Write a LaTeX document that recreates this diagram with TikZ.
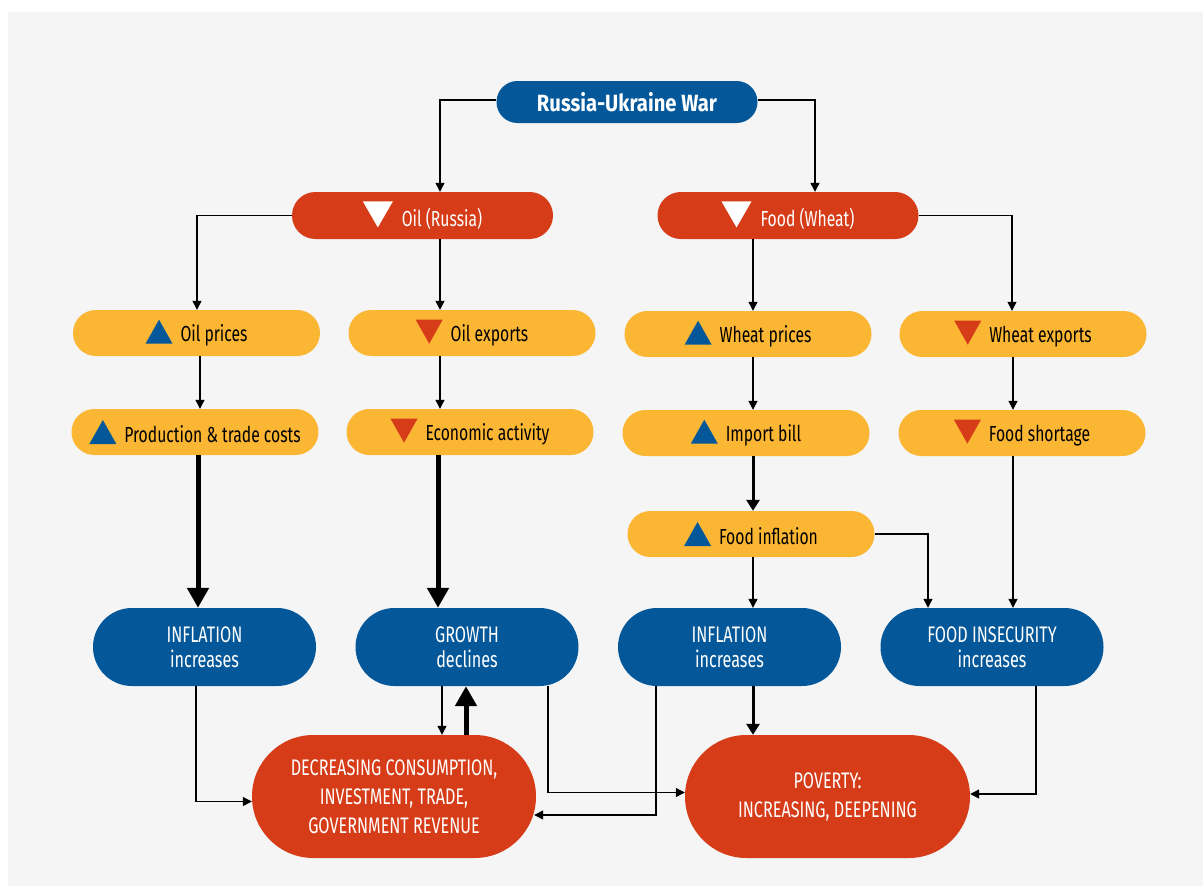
\documentclass[tikz,border=0pt]{standalone}
\usepackage{fontspec}
\setmainfont{Fira Sans}[FakeStretch=0.72]
\newfontfamily\warfont{Fira Sans}[FakeStretch=0.86]
\usetikzlibrary{arrows.meta,calc}
\definecolor{cblue}{RGB}{4,88,154}
\definecolor{cred}{RGB}{214,60,24}
\definecolor{cyel}{RGB}{251,182,52}
\definecolor{cbg}{RGB}{245,245,245}
\newcommand\uptri[1]{\tikz[baseline=2pt,x=1pt,y=1pt,sharp corners]\fill[#1](0,0)--(27,0)--(13.5,24)--cycle;}
\newcommand\dntri[1]{\tikz[baseline=2pt,x=1pt,y=1pt,sharp corners]\fill[#1](0,24)--(27,24)--(13.5,0)--cycle;}
\newcommand\wdntri{\tikz[baseline=1pt,x=1pt,y=1pt,sharp corners]\fill[white](0,26)--(30,26)--(15,0)--cycle;}
\tikzset{
  ybox/.style={fill=cyel, rounded corners=22.9pt, minimum width=247pt, minimum height=46pt, inner sep=0pt, text=black, font=\fontsize{21.8}{24}\selectfont},
  rbox/.style={fill=cred, rounded corners=23.4pt, minimum width=261pt, minimum height=47pt, inner sep=0pt, text=white, font=\fontsize{21.8}{24}\selectfont},
  warbox/.style={fill=cblue, rounded corners=20.9pt, minimum width=261pt, minimum height=42pt, inner sep=0pt, text=white, font=\warfont\bfseries\fontsize{23.5}{26}\selectfont},
  bbox/.style={fill=cblue, rounded corners=38.9pt, minimum width=223pt, minimum height=78pt, inner sep=0pt, text=white, align=center, font=\fontsize{22.5}{25}\selectfont},
  bigbox/.style={fill=cred, rounded corners=61.4pt, minimum width=284pt, minimum height=123pt, inner sep=0pt, text=white, align=center, font=\fontsize{22.5}{29}\selectfont},
  tarrow/.style={draw=black, line width=1.2pt, -{Triangle[width=9pt,length=9pt]}},
  marrow/.style={draw=black, line width=3pt, -{Triangle[width=13pt,length=11pt]}},
  karrow/.style={draw=black, line width=5pt, -{Triangle[width=21pt,length=20pt]}},
}
\begin{document}
\begin{tikzpicture}[x=1pt,y=-1pt]
\useasboundingbox (0,0) rectangle (1203,886);
\fill[white] (0,0) rectangle (1203,886);
\fill[cbg] (8,12) rectangle (1203,886);

\node[warbox] (war) at (627,102) {Russia-Ukraine War};
\node[rbox] (oil) at (422.5,215.5) {\wdntri\hspace{9pt}Oil (Russia)};
\node[rbox] (food) at (788,215.5) {\wdntri\hspace{9pt}Food (Wheat)};

\node[ybox] (oilp) at (196.5,333) {\uptri{cblue}\hspace{8pt}Oil prices};
\node[ybox] (oilx) at (472,333) {\dntri{cred}\hspace{8pt}Oil exports};
\node[ybox] (wheatp) at (748,334) {\uptri{cblue}\hspace{8pt}Wheat prices};
\node[ybox] (wheatx) at (1023,334) {\dntri{cred}\hspace{8pt}Wheat exports};

\node[ybox] (prod) at (195,432) {\uptri{cblue}\hspace{8pt}Production \& trade costs};
\node[ybox] (econ) at (470,432) {\dntri{cred}\hspace{8pt}Economic activity};
\node[ybox] (imp) at (746,433) {\uptri{cblue}\hspace{8pt}Import bill};
\node[ybox] (fshort) at (1022,433) {\dntri{cred}\hspace{8pt}Food shortage};
\node[ybox] (finf) at (751,534) {\uptri{cblue}\hspace{8pt}Food inflation};

\node[bbox] (infl1) at (204.5,647) {INFLATION\\increases};
\node[bbox] (growth) at (467,647) {GROWTH\\declines};
\node[bbox] (infl2) at (729.5,647) {INFLATION\\increases};
\node[bbox] (foodins) at (992,647) {FOOD INSECURITY\\increases};

\node[bigbox] (dec) at (394,796.5) {DECREASING CONSUMPTION,\\INVESTMENT, TRADE,\\GOVERNMENT REVENUE};
\node[bigbox, minimum width=285pt] (pov) at (827.5,796.5) {POVERTY:\\INCREASING, DEEPENING};

% top level
\draw[tarrow] ([yshift=2pt]war.west) -| ([xshift=17.5pt]oil.north);
\draw[tarrow] ([yshift=2pt]war.east) -| ([xshift=27pt]food.north);
\draw[tarrow] (oil.west) -| ([xshift=0.5pt]oilp.north);
\draw[tarrow] (food.east) -| ([xshift=-11pt]wheatx.north);
\draw[tarrow] ([xshift=17.5pt]oil.south) -- ([xshift=-32pt]oilx.north);
\draw[tarrow] ([xshift=-35pt]food.south) -- ([xshift=5pt]wheatp.north);

% second level
\draw[tarrow] ([xshift=3.5pt]oilp.south) -- ([xshift=5pt]prod.north);
\draw[tarrow] ([xshift=-32pt]oilx.south) -- ([xshift=-30pt]econ.north);
\draw[tarrow] ([xshift=5pt]wheatp.south) -- ([xshift=7pt]imp.north);
\draw[tarrow] ([xshift=-10pt]wheatx.south) -- ([xshift=-9pt]fshort.north);

% third level
\draw[karrow] ([xshift=3pt]prod.south) -- ([xshift=-6.5pt]infl1.north);
\draw[karrow] ([xshift=-32pt]econ.south) -- ([xshift=-29pt]growth.north);
\draw[marrow] ([xshift=7pt]imp.south) -- ([xshift=2pt]finf.north);
\draw[tarrow] ([xshift=2pt]finf.south) -- ([xshift=23.5pt]infl2.north);
\draw[tarrow] (finf.east) -| ([xshift=-64pt]foodins.north);
\draw[tarrow] ([xshift=-9pt]fshort.south) -- ([xshift=21pt]foodins.north);

% bottom level
\draw[tarrow] ([xshift=-8.5pt]infl1.south) |- ([yshift=-5pt]dec.west);
\draw[tarrow] ([xshift=-25pt]growth.south) -- ([xshift=48pt]dec.north);
\draw[karrow] ([xshift=72pt]dec.north) -- ([xshift=-1pt]growth.south);
\draw[tarrow] ([xshift=81pt]growth.south) |- ([yshift=4pt]pov.west);
\draw[tarrow] ([xshift=-73.5pt]infl2.south) |- ([yshift=-18.5pt,xshift=-2pt]dec.east);
\draw[marrow] ([xshift=23.5pt]infl2.south) -- ([xshift=-74.5pt]pov.north);
\draw[tarrow] ([xshift=44pt]foodins.south) |- ([yshift=2.5pt]pov.east);
\end{tikzpicture}
\end{document}
